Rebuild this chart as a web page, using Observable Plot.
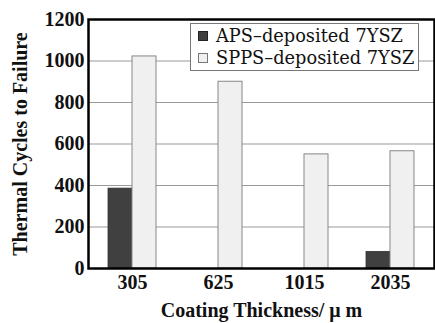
<!DOCTYPE html>
<html><head><meta charset="utf-8">
<script src="https://cdn.jsdelivr.net/npm/d3@7"></script>
<script src="https://cdn.jsdelivr.net/npm/@observablehq/plot@0.6"></script>
<style>
body{margin:0;background:#fff;}
#wrap{position:relative;width:435px;height:323px;}
#legend{position:absolute;left:190px;top:23px;width:229px;height:48px;border:1px solid #777;background:#fff;box-sizing:border-box;font-family:"DejaVu Serif",serif;font-size:17.8px;color:#111;padding:1px 0 0 7px;line-height:22px;white-space:nowrap;}
#legend .sw{display:inline-block;width:10px;height:10px;margin-right:8px;box-sizing:border-box;vertical-align:1px;}
</style></head>
<body><div id="wrap"></div>
<script>
const categories = ["305", "625", "1015", "2035"];
const apsValues = [385, 0, 0, 80];
const sppsValues = [1022, 900, 550, 565];
const yTicks = [0, 200, 400, 600, 800, 1000, 1200];
const seriesNames = ["APS\u2013deposited 7YSZ", "SPPS\u2013deposited 7YSZ"];
const seriesColors = ["#404040", "#f0f0f0"];

const aps = categories.map((c, i) => ({cat: c, v: apsValues[i]})).filter(d => d.v > 0);
const spps = categories.map((c, i) => ({cat: c, v: sppsValues[i]}));

const font = '"Liberation Serif", serif';
const chart = Plot.plot({
  width: 435, height: 323,
  marginLeft: 88, marginRight: 1, marginTop: 19, marginBottom: 55,
  style: {fontFamily: font, fontSize: "20px", color: "#111", background: "#fff"},
  x: {domain: categories, padding: 0},
  y: {domain: [0, 1200]},
  marks: [
    Plot.gridY(yTicks.slice(1, -1), {stroke: "#999", strokeOpacity: 1, strokeWidth: 1}),
    Plot.barY(aps, {x: "cat", y: "v", fill: seriesColors[0], stroke: "#333", strokeWidth: 0.8, insetLeft: 31, insetRight: 31, dx: -12}),
    Plot.barY(spps, {x: "cat", y: "v", fill: seriesColors[1], stroke: "#888", strokeWidth: 1, insetLeft: 31, insetRight: 31, dx: 12}),
    Plot.frame({stroke: "#000", strokeWidth: 2.5}),
    Plot.axisY({ticks: yTicks, tickFormat: d => String(d), tickSize: 0, tickPadding: 4, fontSize: 20, fontWeight: "bold",
      label: "Thermal Cycles to Failure", labelAnchor: "center", labelArrow: "none", labelOffset: 76}),
    Plot.axisX({tickSize: 0, tickPadding: 6, fontSize: 20, fontWeight: "bold",
      label: "Coating Thickness/ \u03bc m", labelAnchor: "center", labelArrow: "none", labelOffset: 48})
  ]
});
document.getElementById("wrap").appendChild(chart);

const lg = document.createElement("div");
lg.id = "legend";
lg.innerHTML = seriesNames.map((n, i) =>
  `<div><span class="sw" style="background:${seriesColors[i]};border:1px solid ${i ? '#777' : '#222'}"></span>${n}</div>`).join("");
document.getElementById("wrap").appendChild(lg);
</script></body></html>
